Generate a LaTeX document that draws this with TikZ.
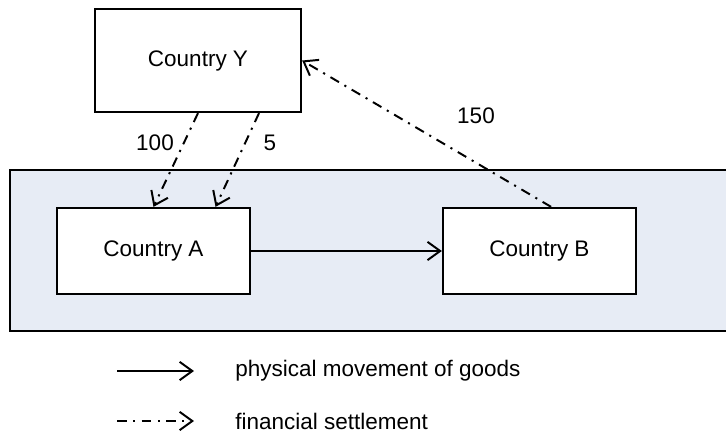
\documentclass[tikz,border=0pt]{standalone}
\usepackage{fontspec}
\setmainfont{Liberation Sans}
\usetikzlibrary{arrows.meta}
\definecolor{zone}{RGB}{231,236,245}
\begin{document}
\begin{tikzpicture}[x=0.025cm,y=-0.025cm,
  country/.style={draw,line width=1.6pt,fill=white,font=\fontsize{16pt}{19pt}\selectfont},
  goods/.style={line width=1.4pt,-{Straight Barb[length=9pt,width=13pt,line width=1.4pt]}},
  money/.style={goods,dash pattern=on 7pt off 4.5pt on 1.5pt off 4.5pt},
  lbl/.style={font=\fontsize{16pt}{19pt}\selectfont,inner sep=0pt}]
\useasboundingbox (0,0) rectangle (726,434);
%region
\draw[line width=1.6pt,fill=zone] (10,170) rectangle (760,331);
%countries
\node[country,minimum width=5.15cm,minimum height=2.575cm] (Y) at (198,60.5) {Country Y};
\node[country,minimum width=4.825cm,minimum height=2.15cm] (A) at (153.5,251) {Country A};
\node[country,minimum width=4.825cm,minimum height=2.15cm] (B) at (539.5,251) {Country B};
%goods
\draw[goods] (A) -- (B);
%settlements
\draw[money] (Y.south) -- (A.north);
\draw[money] ([xshift=1.525cm]Y.south) -- ([xshift=1.55cm]A.north);
\draw[money] ([xshift=0.29cm]B.north) -- (Y.east);
\node[lbl] (l100) at (155,143) {100};
\node[lbl] (l5) at (270,143) {5};
\node[lbl] (l150) at (476,116) {150};
%legend
\coordinate (g0) at (117,371);
\coordinate (g1) at (194,371);
\coordinate (m0) at (117,421);
\coordinate (m1) at (194,421);
\draw[goods] (g0) -- (g1);
\draw[money] (m0) -- (m1);
\node[lbl,anchor=west] (tg) at (235,371) {physical movement of goods};
\node[lbl,anchor=west] (tm) at (235,421) {financial settlement};
\end{tikzpicture}
\end{document}
